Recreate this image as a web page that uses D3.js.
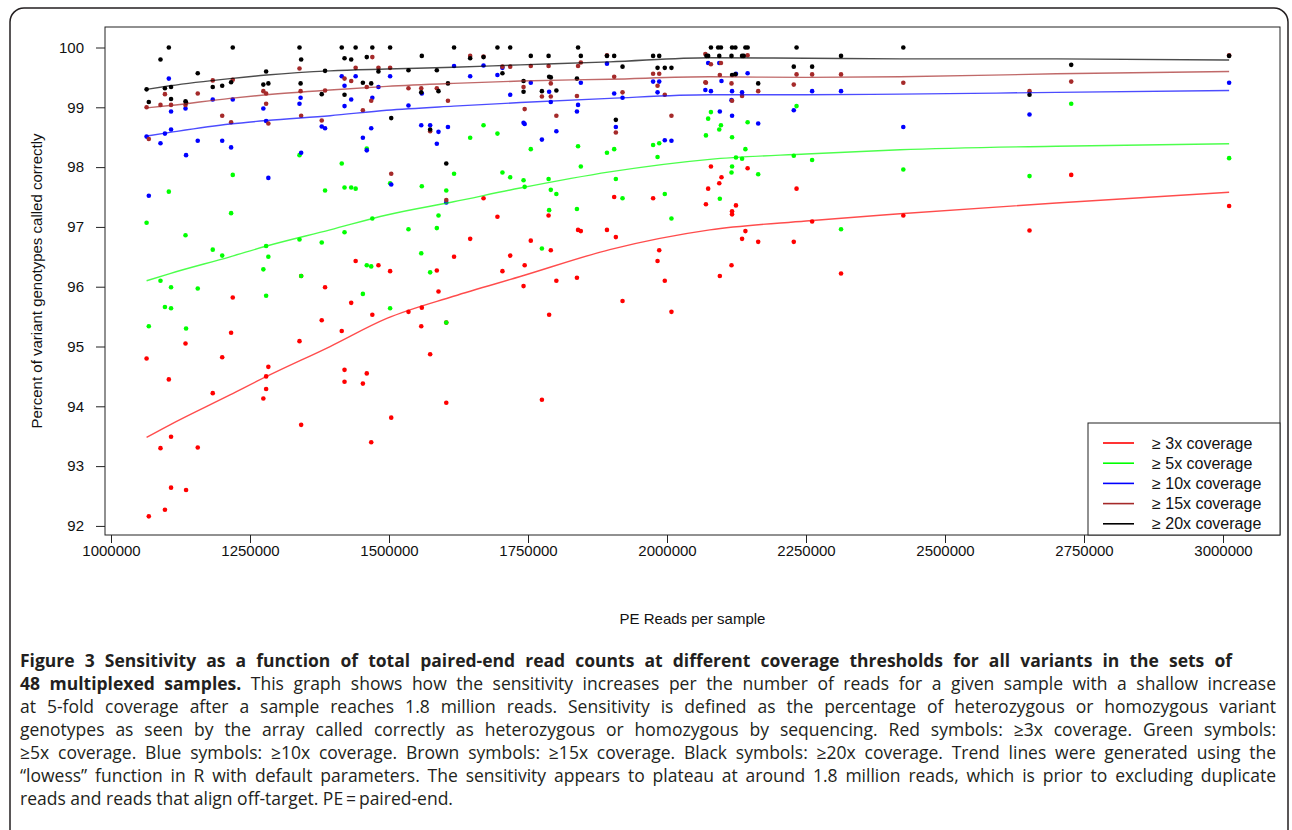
<!DOCTYPE html>
<html>
<head>
<meta charset="utf-8">
<script src="https://cdn.jsdelivr.net/npm/d3@7"></script>
<style>
  body { margin: 0; background: #fff; }
  svg { display: block; }
</style>
</head>
<body>
<div id="chart"></div>
<script>
// Points: [PE reads, percent called correctly]
var red3x = [
  [1342000, 96.18], [1385000, 95.99], [1219000, 95.82], [1379000, 95.44], [1216000, 95.23],
  [1134000, 95.05], [1339000, 95.09], [1064000, 94.80], [1200000, 94.82], [1283000, 94.66],
  [1279000, 94.50], [1104000, 94.45], [1279000, 94.29], [1183000, 94.22], [1274000, 94.13],
  [1342000, 93.69], [1108000, 93.49], [1089000, 93.30], [1156000, 93.31], [1108000, 92.64],
  [1135000, 92.60], [1097000, 92.27], [1068000, 92.16],
  [1670000, 97.48], [1695000, 97.17], [1646000, 96.80], [1718000, 96.52], [1617000, 96.50],
  [1440000, 96.43], [1481000, 96.36], [1502000, 96.26], [1586000, 96.27], [1704000, 96.26],
  [1589000, 95.92], [1432000, 95.73], [1470000, 95.53], [1535000, 95.58], [1559000, 95.65],
  [1415000, 95.26], [1558000, 95.34], [1603000, 95.40], [1574000, 94.87], [1420000, 94.61],
  [1420000, 94.41], [1460000, 94.55], [1453000, 94.38], [1603000, 94.06], [1504000, 93.81],
  [1468000, 93.40],
  [2079000, 98.01], [1905000, 97.50], [1975000, 97.48], [2070000, 97.38], [1840000, 96.95],
  [1845000, 96.93], [1892000, 96.95], [1908000, 96.83], [1755000, 96.77], [1791000, 96.61],
  [1986000, 96.61], [1983000, 96.43], [1744000, 96.36], [1801000, 96.10], [1838000, 96.15],
  [1996000, 96.10], [1742000, 96.01], [1920000, 95.76], [1788000, 95.53], [2008000, 95.58],
  [1775000, 94.11], [1787000, 97.19],
  [2098000, 97.83], [2094000, 97.73], [2145000, 97.98], [2074000, 97.64], [2233000, 97.64],
  [2124000, 97.36], [2117000, 97.26], [2117000, 97.21], [2261000, 97.09], [2141000, 96.93],
  [2135000, 96.80], [2164000, 96.75], [2228000, 96.75], [2116000, 96.36], [2095000, 96.18],
  [2313000, 96.22],
  [2425000, 97.19], [2652000, 96.94], [2727000, 97.87], [3011000, 97.35]
];

var green5x = [
  [1339000, 98.20], [1219000, 97.87], [1104000, 97.59], [1385000, 97.61], [1216000, 97.23],
  [1064000, 97.07], [1134000, 96.86], [1183000, 96.62], [1200000, 96.52], [1279000, 96.68],
  [1283000, 96.50], [1339000, 96.79], [1379000, 96.74], [1274000, 96.29], [1342000, 96.18],
  [1089000, 96.10], [1108000, 95.99], [1156000, 95.97], [1279000, 95.85], [1097000, 95.66],
  [1108000, 95.64], [1068000, 95.34], [1135000, 95.30],
  [1460000, 98.31], [1415000, 98.06], [1670000, 98.70], [1646000, 98.49], [1695000, 98.56],
  [1617000, 97.89], [1704000, 97.91], [1718000, 97.83], [1420000, 97.66], [1432000, 97.66],
  [1440000, 97.64], [1502000, 97.73], [1559000, 97.68], [1603000, 97.61], [1470000, 97.14],
  [1589000, 97.19], [1420000, 96.91], [1535000, 96.96], [1586000, 96.98], [1558000, 96.56],
  [1460000, 96.36], [1468000, 96.34], [1574000, 96.24], [1453000, 95.88], [1502000, 95.64],
  [1603000, 95.40],
  [2070000, 98.53], [1755000, 98.30], [1840000, 98.35], [1892000, 98.24], [1905000, 98.30],
  [1975000, 98.37], [1986000, 98.40], [1983000, 98.17], [1845000, 98.01], [1742000, 97.78],
  [1744000, 97.67], [1787000, 97.80], [1791000, 97.62], [1801000, 97.55], [1908000, 97.80],
  [1920000, 97.48], [1996000, 97.55], [1788000, 97.28], [1838000, 97.30], [2008000, 97.14],
  [1775000, 96.64],
  [2079000, 98.92], [2074000, 98.81], [2233000, 99.02], [2097000, 98.70], [2094000, 98.63],
  [2145000, 98.75], [2117000, 98.50], [2141000, 98.30], [2124000, 98.16], [2135000, 98.14],
  [2228000, 98.19], [2261000, 98.12], [2117000, 98.01], [2116000, 97.91], [2164000, 97.88],
  [2095000, 97.47], [2313000, 96.96],
  [2425000, 97.96], [2727000, 99.06], [2652000, 97.85], [3011000, 98.15]
];

var blue10x = [
  [1104000, 99.48], [1183000, 99.13], [1219000, 99.13], [1274000, 98.98], [1341000, 99.16],
  [1339000, 99.06], [1108000, 98.93], [1134000, 98.98], [1064000, 98.51], [1097000, 98.56],
  [1108000, 98.63], [1089000, 98.40], [1156000, 98.44], [1200000, 98.44], [1216000, 98.33],
  [1135000, 98.20], [1283000, 97.82], [1342000, 98.24], [1279000, 98.77], [1379000, 98.68],
  [1385000, 98.65], [1068000, 97.52],
  [1415000, 99.52], [1420000, 99.36], [1440000, 99.52], [1481000, 99.34], [1502000, 99.52],
  [1617000, 99.69], [1646000, 99.52], [1670000, 99.70], [1695000, 99.54], [1704000, 99.66],
  [1718000, 99.21], [1420000, 99.02], [1432000, 99.13], [1470000, 99.16], [1535000, 99.03],
  [1559000, 99.23], [1453000, 98.49], [1468000, 98.65], [1460000, 98.28], [1558000, 98.70],
  [1574000, 98.70], [1589000, 98.59], [1606000, 98.67], [1586000, 98.39], [1504000, 97.71],
  [1603000, 97.41],
  [1892000, 99.73], [1755000, 99.41], [1845000, 99.41], [1975000, 99.43], [1986000, 99.43],
  [2069000, 99.29], [1788000, 99.26], [1791000, 99.09], [1905000, 99.23], [1920000, 99.16],
  [1983000, 99.25], [1840000, 99.04], [1838000, 98.93], [1742000, 98.74], [1744000, 98.72],
  [1801000, 98.60], [1775000, 98.46], [1908000, 98.67], [1996000, 98.45], [2008000, 98.44],
  [2074000, 99.74], [2094000, 99.74], [2098000, 99.44], [2124000, 99.56], [2145000, 99.57],
  [2079000, 99.27], [2117000, 99.27], [2135000, 99.25], [2261000, 99.27], [2313000, 99.27],
  [2116000, 99.12], [2095000, 98.93], [2117000, 98.86], [2228000, 98.95], [2164000, 98.73],
  [2425000, 98.67], [2652000, 98.88], [3011000, 99.41]
];

var brown15x = [
  [1064000, 99.00], [1089000, 99.04], [1097000, 99.22], [1108000, 99.04], [1134000, 99.04],
  [1156000, 99.23], [1183000, 99.45], [1219000, 99.46], [1200000, 98.86], [1216000, 98.75],
  [1274000, 99.27], [1279000, 99.23], [1279000, 99.06], [1283000, 98.73], [1339000, 99.65],
  [1341000, 99.27], [1342000, 98.86], [1385000, 99.28], [1379000, 98.78], [1068000, 98.47],
  [1470000, 99.84], [1646000, 99.86], [1670000, 99.85], [1440000, 99.66], [1481000, 99.66],
  [1502000, 99.66], [1704000, 99.68], [1718000, 99.68], [1420000, 99.48], [1432000, 99.44],
  [1460000, 99.34], [1468000, 99.11], [1453000, 98.95], [1535000, 99.32], [1558000, 99.32],
  [1586000, 99.32], [1606000, 99.11], [1574000, 98.60], [1504000, 97.89], [1603000, 97.45],
  [1755000, 99.69], [1787000, 99.69], [1840000, 99.69], [1845000, 99.75], [1892000, 99.87],
  [1905000, 99.51], [1975000, 99.56], [1986000, 99.56], [2069000, 99.89], [1742000, 99.34],
  [1791000, 99.40], [1775000, 99.18], [1791000, 99.18], [1838000, 99.19], [1920000, 99.25],
  [1983000, 99.36], [1996000, 99.21], [2069000, 99.42], [1744000, 98.97], [1801000, 98.86],
  [2008000, 98.86], [1908000, 98.58],
  [2079000, 99.72], [2097000, 99.74], [2095000, 99.54], [2070000, 99.41], [2116000, 99.40],
  [2164000, 99.27], [2228000, 99.38], [2233000, 99.55], [2261000, 99.55], [2313000, 99.55],
  [2135000, 99.19], [2117000, 99.11], [2145000, 99.87],
  [2425000, 99.41], [2652000, 99.27], [2727000, 99.43], [3011000, 99.87]
];

var black20x = [
  [1104000, 100.0], [1219000, 100.0], [1339000, 100.0], [1089000, 99.80], [1342000, 99.80],
  [1156000, 99.57], [1279000, 99.60], [1064000, 99.30], [1097000, 99.32], [1108000, 99.34],
  [1183000, 99.34], [1200000, 99.36], [1216000, 99.42], [1274000, 99.38], [1283000, 99.40],
  [1341000, 99.40], [1385000, 99.61], [1379000, 99.22], [1068000, 99.09], [1108000, 99.14],
  [1134000, 99.10], [1135000, 99.08],
  [1415000, 100.0], [1440000, 100.0], [1470000, 100.0], [1502000, 100.0], [1617000, 100.0],
  [1695000, 100.0], [1718000, 100.0], [1420000, 99.82], [1432000, 99.80], [1460000, 99.84],
  [1559000, 99.86], [1646000, 99.82], [1670000, 99.84], [1481000, 99.60], [1535000, 99.62],
  [1586000, 99.62], [1704000, 99.57], [1420000, 99.21], [1453000, 99.41], [1468000, 99.40],
  [1558000, 99.25], [1589000, 99.27], [1606000, 99.40], [1504000, 98.82], [1574000, 98.63],
  [1603000, 98.06],
  [1840000, 100.0], [1755000, 99.86], [1787000, 99.86], [1845000, 99.86], [1892000, 99.86],
  [1905000, 99.86], [1975000, 99.86], [1986000, 99.86], [1920000, 99.68], [1983000, 99.66],
  [1996000, 99.66], [2008000, 99.66], [1742000, 99.44], [1788000, 99.51], [1791000, 99.50],
  [1838000, 99.48], [1742000, 99.26], [1775000, 99.27], [1801000, 99.28], [1908000, 98.79],
  [2079000, 100.0], [2092000, 100.0], [2097000, 100.0], [2117000, 100.0], [2123000, 100.0],
  [2141000, 100.0], [2145000, 100.0], [2233000, 100.0], [2071000, 99.86], [2074000, 99.86],
  [2094000, 99.86], [2116000, 99.86], [2135000, 99.86], [2138000, 99.86], [2313000, 99.86],
  [2228000, 99.68], [2261000, 99.68], [2117000, 99.54], [2123000, 99.55], [2164000, 99.40],
  [2425000, 100.0], [2727000, 99.71], [2652000, 99.21], [3011000, 99.86]
];

// lowess trend lines, read at these reads values
var trendReads = [1064000, 1106000, 1214000, 1280000, 1394000, 1496000, 1616000, 1736000,
  1897000, 2077000, 2250000, 2419000, 2700000, 3011000];
var trend3x  = [93.48, 93.69, 94.19, 94.50, 95.00, 95.47, 95.84, 96.17, 96.62, 96.95, 97.10, 97.22, 97.40, 97.58];
var trend5x  = [96.10, 96.22, 96.50, 96.68, 96.95, 97.20, 97.42, 97.65, 97.92, 98.13, 98.22, 98.29, 98.35, 98.39];
var trend10x = [98.52, 98.58, 98.72, 98.78, 98.86, 98.95, 99.02, 99.08, 99.15, 99.21, 99.21, 99.22, 99.25, 99.28];
var trend15x = [98.99, 99.03, 99.15, 99.21, 99.29, 99.35, 99.40, 99.44, 99.47, 99.51, 99.50, 99.51, 99.56, 99.60];
var trend20x = [99.30, 99.36, 99.48, 99.54, 99.61, 99.64, 99.67, 99.71, 99.76, 99.83, 99.82, 99.81, 99.81, 99.79];

var legendLabels = ["\u2265 3x coverage", "\u2265 5x coverage", "\u2265 10x coverage",
  "\u2265 15x coverage", "\u2265 20x coverage"];
var seriesColors = ["#ff0000", "#00ff00", "#0000ff", "#a52a2a", "#000000"];
var xTicks = [1000000, 1250000, 1500000, 1750000, 2000000, 2250000, 2500000, 2750000, 3000000];
var yTicks = [92, 93, 94, 95, 96, 97, 98, 99, 100];

var captionLines = [
  [{ t: "Figure 3 Sensitivity as a function of total paired-end read counts at different coverage thresholds for all variants in the sets of", b: true }],
  [{ t: "48 multiplexed samples.", b: true }, { t: " This graph shows how the sensitivity increases per the number of reads for a given sample with a shallow increase", b: false }],
  [{ t: "at 5-fold coverage after a sample reaches 1.8 million reads. Sensitivity is defined as the percentage of heterozygous or homozygous variant", b: false }],
  [{ t: "genotypes as seen by the array called correctly as heterozygous or homozygous by sequencing. Red symbols: \u22653x coverage. Green symbols:", b: false }],
  [{ t: "\u22655x coverage. Blue symbols: \u226510x coverage. Brown symbols: \u226515x coverage. Black symbols: \u226520x coverage. Trend lines were generated using the", b: false }],
  [{ t: "\u201clowess\u201d function in R with default parameters. The sensitivity appears to plateau at around 1.8 million reads, which is prior to excluding duplicate", b: false }],
  [{ t: "reads and reads that align off-target. PE\u2009=\u2009paired-end.", b: false }]
];

var W = 1292, H = 830;
var svg = d3.select("#chart").append("svg").attr("width", W).attr("height", H);

// figure frame
svg.append("rect")
  .attr("x", 10).attr("y", 8)
  .attr("width", 1278).attr("height", 900)
  .attr("rx", 14)
  .attr("fill", "none")
  .attr("stroke", "#231f20")
  .attr("stroke-width", 1.5);

var box = { left: 105, top: 27, right: 1280, bottom: 535 };
var font = "'Liberation Sans', Arial, sans-serif";

var x = d3.scaleLinear().domain([989200, 3102500]).range([box.left, box.right]);
var y = d3.scaleLinear().domain([91.848, 100.343]).range([box.bottom, box.top]);

var g = svg.append("g");

// axes
var xAxis = g.append("g")
  .attr("transform", "translate(0," + box.bottom + ")")
  .call(d3.axisBottom(x).tickValues(xTicks).tickFormat(d3.format("d")).tickSize(8).tickPadding(2).tickSizeOuter(0));
var yAxis = g.append("g")
  .attr("transform", "translate(" + box.left + ",0)")
  .call(d3.axisLeft(y).tickValues(yTicks).tickSize(9).tickPadding(12).tickSizeOuter(0));
[xAxis, yAxis].forEach(function (a) {
  a.select(".domain").remove();
  a.selectAll("line").attr("stroke", "#222").attr("stroke-width", 1);
  a.selectAll("text").attr("font-family", font).attr("font-size", "15px").attr("fill", "#111");
});

// plot box
g.append("rect")
  .attr("x", box.left).attr("y", box.top)
  .attr("width", box.right - box.left).attr("height", box.bottom - box.top)
  .attr("fill", "none").attr("stroke", "#222").attr("stroke-width", 1);

// axis titles
g.append("text")
  .attr("x", (box.left + box.right) / 2)
  .attr("y", 624)
  .attr("text-anchor", "middle")
  .attr("font-family", font).attr("font-size", "15px").attr("fill", "#111")
  .text("PE Reads per sample");
g.append("text")
  .attr("transform", "translate(42," + (box.top + box.bottom) / 2 + ") rotate(-90)")
  .attr("text-anchor", "middle")
  .attr("font-family", font).attr("font-size", "15px").attr("fill", "#111")
  .text("Percent of variant genotypes called correctly");

// points
var pointSets = [red3x, green5x, blue10x, brown15x, black20x];
pointSets.forEach(function (pts, i) {
  g.append("g").selectAll("circle")
    .data(pts)
    .enter()
    .append("circle")
    .attr("cx", function (d) { return x(d[0]); })
    .attr("cy", function (d) { return y(d[1]); })
    .attr("r", 2.3)
    .attr("fill", seriesColors[i]);
});

// trend lines
var trends = [trend3x, trend5x, trend10x, trend15x, trend20x];
var line = d3.line()
  .x(function (d, i) { return x(trendReads[i]); })
  .y(function (d) { return y(d); })
  .curve(d3.curveMonotoneX);
trends.forEach(function (t, i) {
  g.append("path")
    .attr("d", line(t))
    .attr("fill", "none")
    .attr("stroke", seriesColors[i])
    .attr("stroke-opacity", 0.7)
    .attr("stroke-width", 1.4);
});

// legend (bottom right, inside the box)
var lg = g.append("g");
lg.append("rect")
  .attr("x", 1088).attr("y", 423)
  .attr("width", box.right - 1088).attr("height", box.bottom - 423)
  .attr("fill", "#fff").attr("stroke", "#222").attr("stroke-width", 1);
legendLabels.forEach(function (lab, i) {
  var ly = 443 + i * 20.2;
  lg.append("line")
    .attr("x1", 1103).attr("x2", 1134)
    .attr("y1", ly).attr("y2", ly)
    .attr("stroke", seriesColors[i]).attr("stroke-width", 1.6);
  lg.append("text")
    .attr("x", 1152).attr("y", ly + 5.5)
    .attr("font-family", font).attr("font-size", "16px").attr("fill", "#111")
    .text(lab);
});

// caption, justified like the journal layout
var cap = svg.append("g")
  .attr("font-family", "'Open Sans', 'Noto Sans', sans-serif")
  .attr("font-size", "17.5px")
  .attr("fill", "#231f20");
captionLines.forEach(function (parts, i) {
  var txt = cap.append("text").attr("x", 20).attr("y", 667 + i * 23);
  parts.forEach(function (p) {
    txt.append("tspan").attr("font-weight", p.b ? "bold" : "normal").text(p.t);
  });
  var target = i === 0 ? 1212 : (i < captionLines.length - 1 ? 1256 : 0);
  if (target) {
    var full = parts.map(function (p) { return p.t; }).join("");
    var spaces = (full.match(/ /g) || []).length;
    var w = txt.node().getComputedTextLength();
    if (spaces > 0) {
      var ws = (target - w) / spaces;
      if (ws < -2) {
        // too wide: squeeze the whole line instead
        txt.attr("textLength", target).attr("lengthAdjust", "spacingAndGlyphs");
      } else {
        txt.attr("word-spacing", ws);
      }
    }
  }
});
</script>
</body>
</html>
